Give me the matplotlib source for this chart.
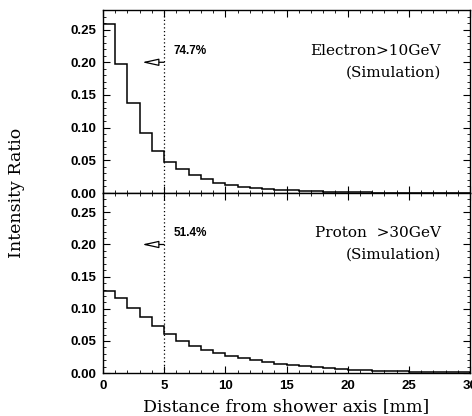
import numpy as np
import matplotlib
matplotlib.use('Agg')
import matplotlib.pyplot as plt
from matplotlib.ticker import MultipleLocator

# bin edges 0..30 mm, 1 mm wide
edges = np.arange(0, 31, 1)

electron = [0.258, 0.198, 0.137, 0.092, 0.065, 0.048, 0.036, 0.028, 0.021, 0.016,
            0.0127, 0.0096, 0.008, 0.0066, 0.005, 0.004, 0.003, 0.0025, 0.002, 0.0015,
            0.0012, 0.001, 0.0008, 0.0006, 0.0005, 0.0004, 0.0003, 0.0003, 0.0002, 0.0002]
proton = [0.128, 0.117, 0.102, 0.087, 0.073, 0.061, 0.050, 0.042, 0.036, 0.031,
          0.0266, 0.0234, 0.020, 0.017, 0.015, 0.013, 0.0117, 0.010, 0.0078, 0.0062,
          0.0052, 0.0045, 0.004, 0.0035, 0.003, 0.0025, 0.002, 0.002, 0.0015, 0.0015]

panels = [(electron, 'Electron>10GeV', '74.7%'), (proton, 'Proton  >30GeV', '51.4%')]

tickfont = dict(family='Liberation Sans', weight='bold', size=9.5)
serif = 'DejaVu Serif'

fig = plt.figure(figsize=(4.72, 4.16), dpi=100)
ax_top = fig.add_axes([0.218, 0.536, 0.778, 0.440])
ax_bot = fig.add_axes([0.218, 0.103, 0.778, 0.433], sharex=ax_top)

for ax, (vals, name, pct) in zip([ax_top, ax_bot], panels):
    ax.stairs(vals, edges, color='black', lw=1.1)
    ax.set_xlim(0, 30)
    ax.set_ylim(0, 0.28)
    ax.axvline(5, color='black', ls=(0, (1, 2)), lw=0.9)
    ax.annotate('', xy=(3.2, 0.20), xytext=(5, 0.20),
                arrowprops=dict(arrowstyle='-|>,head_length=1.0,head_width=0.22',
                                fc='white', ec='black', lw=0.9, shrinkA=0, shrinkB=0))
    ax.text(5.8, 0.218, pct, family='Liberation Sans', weight='bold', fontsize=8.5, va='center')
    ax.text(27.6, 0.218, name, family=serif, fontsize=11, ha='right', va='center')
    ax.text(27.6, 0.184, '(Simulation)', family=serif, fontsize=11, ha='right', va='center')
    ax.xaxis.set_major_locator(MultipleLocator(5))
    ax.xaxis.set_minor_locator(MultipleLocator(1))
    ax.yaxis.set_major_locator(MultipleLocator(0.05))
    ax.yaxis.set_minor_locator(MultipleLocator(0.01))
    ax.tick_params(which='both', direction='in', top=True, right=True)
    ax.tick_params(which='major', length=5, pad=5)
    ax.tick_params(which='minor', length=2)
    ax.set_yticks(np.arange(0, 0.26, 0.05))
    ax.set_yticklabels(['%.2f' % v for v in np.arange(0, 0.26, 0.05)], fontdict=tickfont)
    for s in ax.spines.values():
        s.set_linewidth(1.0)

plt.setp(ax_top.get_xticklabels(), visible=False)
ax_bot.set_xticks(np.arange(0, 31, 5))
ax_bot.set_xticklabels([str(v) for v in range(0, 31, 5)], fontdict=tickfont)
ax_bot.set_xlabel('Distance from shower axis [mm]', family=serif, fontsize=12.5, labelpad=4)
fig.text(0.036, 0.536, 'Intensity Ratio', family=serif, fontsize=12.5,
         rotation=90, ha='center', va='center')

fig.savefig('out.png', dpi=100)
